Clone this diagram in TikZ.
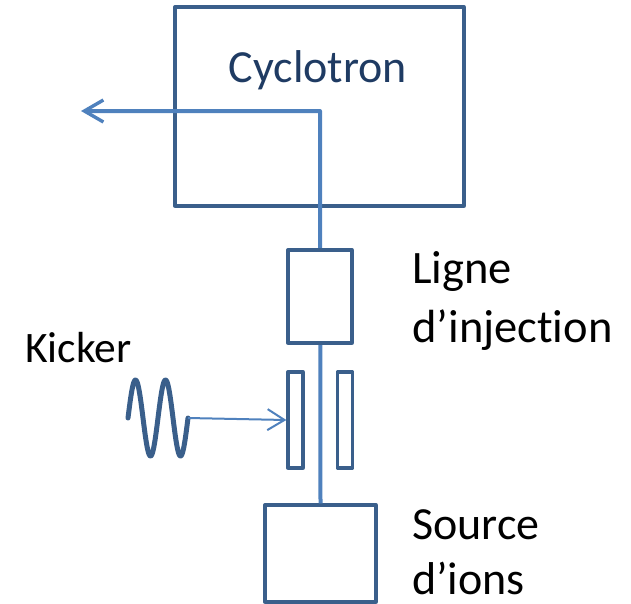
\documentclass[tikz,border=0pt]{standalone}
\usepackage{fontspec}
\setmainfont{Carlito}[RawFeature=-liga]
\usetikzlibrary{arrows.meta}
\definecolor{boxblue}{HTML}{3A5F8B}
\definecolor{beamblue}{HTML}{4F81BD}
\definecolor{navytext}{HTML}{1F3B63}
\begin{document}
\begin{tikzpicture}[x=1pt,y=-1pt,
  box/.style={draw=boxblue, line width=3.3pt, line join=round, rectangle, inner sep=0pt},
  filledbox/.style={box, fill=white},
  beam/.style={draw=beamblue, line width=4pt, line join=round},
  kickarrow/.style={draw=beamblue, line width=2pt, -{Straight Barb[length=17pt,width=21pt,line width=2pt]}},
  beamarrow/.style={-{Straight Barb[length=19pt,width=22pt,line width=3.4pt]}},
  wave/.style={draw=boxblue, line width=5pt, line cap=round, line join=round},
  lbl/.style={font=\fontsize{46}{58}\selectfont, text=black, inner sep=0pt, anchor=base west, align=left}
]
\useasboundingbox (0,0) rectangle (631,603);

% cyclotron box
\node[box, minimum width=289pt, minimum height=199pt] (cyc) at (319.5,106.5) {};
\node[font=\fontsize{46}{58}\selectfont, text=navytext, inner sep=0pt, anchor=base] (cyctext) at (318,82) {Cyclotron};

% beam
\coordinate (turn) at (320,111);
\coordinate (exit) at (81,111);
\node[filledbox, minimum width=111pt, minimum height=97pt] (src) at (320.5,553.5) {};
\draw[beam, beamarrow] (src.north) -- (turn) -- (exit);

% boxes drawn over beam
\node[filledbox, minimum width=64pt, minimum height=93pt] (ligne) at (320,296.5) {};
\node[box, fill=white, minimum width=15pt, minimum height=96pt] (platel) at (295.5,420) {};
\node[box, fill=white, minimum width=15pt, minimum height=96pt] (plater) at (345,420) {};

% kicker signal
\coordinate (sinestart) at (128,418);
\coordinate (sineend) at (188,418);
\draw[wave] plot[domain=0:720, samples=120] ({128+\x/12},{418-38*sin(\x)});
\draw[kickarrow] (sineend) -- (platel.west);

% labels
\node[lbl, font=\fontsize{43.5}{58}\selectfont] (kicker) at (25,362) {Kicker};
\node[lbl, font=\fontsize{46.5}{59}\selectfont] (lignetext) at (412,342) {Ligne\\d’injection};
\node[lbl, font=\fontsize{46}{55}\selectfont] (srctext) at (412,594) {Source\\d’ions};
\end{tikzpicture}
\end{document}
